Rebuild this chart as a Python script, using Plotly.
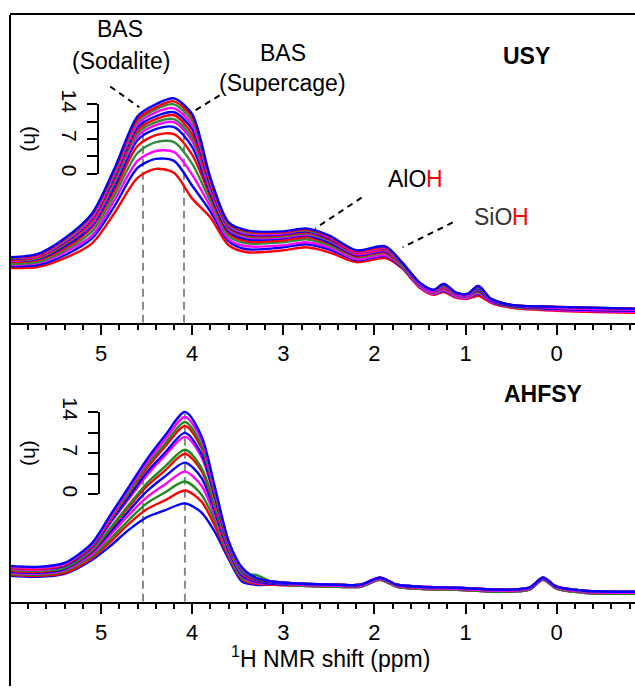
import plotly.graph_objects as go

# ---------------- data ----------------
# chemical shift grid (ppm) for the USY panel
usy_ppm = [6.0, 5.7, 5.4, 5.1, 4.85, 4.6, 4.4, 4.2, 4.0, 3.8, 3.6, 3.4, 3.0, 2.75,
           2.5, 2.2, 1.88, 1.7, 1.5, 1.35, 1.24, 1.1, 0.98, 0.86, 0.72, 0.5, 0.0, -0.9]
# signal level of each USY spectrum, measured downward from the panel top (0 h ... 14 h)
usy_0 = [268, 267, 258, 243, 212, 177, 168, 172, 198, 217, 245, 252, 250, 247, 252, 262, 258, 268, 288, 295, 292, 298, 299, 296, 303, 308, 311, 313]
usy_1 = [266, 265, 255, 238, 205, 167, 158, 160, 185, 211, 241, 249, 247, 244, 249, 260, 256, 267, 287, 294, 291, 297, 298, 294, 302, 307, 310, 312]
usy_2 = [265, 263, 252, 235, 199, 160, 150, 151, 174, 206, 239, 246, 245, 242, 247, 259, 255, 266, 287, 294, 290, 297, 298, 293, 302, 307, 310, 312]
usy_3 = [264, 262, 250, 231, 194, 152, 141, 141, 163, 201, 236, 243, 242, 239, 245, 257, 253, 266, 286, 293, 289, 296, 297, 292, 301, 307, 309, 311]
usy_4 = [262, 260, 248, 227, 189, 145, 134, 133, 154, 196, 233, 241, 240, 237, 243, 256, 252, 265, 285, 292, 288, 295, 296, 291, 301, 306, 309, 311]
usy_5 = [261, 259, 246, 225, 185, 139, 128, 126, 146, 193, 231, 239, 238, 235, 242, 255, 251, 264, 285, 292, 287, 295, 296, 290, 301, 306, 309, 311]
usy_6 = [261, 258, 244, 223, 181, 135, 124, 121, 140, 190, 229, 237, 237, 234, 240, 254, 250, 264, 285, 292, 287, 295, 296, 289, 300, 306, 308, 310]
usy_7 = [260, 258, 244, 221, 180, 132, 121, 118, 137, 188, 228, 236, 236, 233, 240, 253, 249, 264, 284, 291, 286, 294, 295, 289, 300, 306, 308, 310]
usy_8 = [260, 257, 243, 220, 177, 129, 118, 114, 133, 186, 227, 235, 235, 232, 239, 253, 249, 263, 284, 291, 286, 294, 295, 288, 300, 306, 308, 310]
usy_9 = [259, 256, 242, 218, 175, 126, 115, 111, 128, 184, 226, 234, 234, 231, 238, 252, 248, 263, 284, 291, 285, 294, 295, 288, 300, 306, 308, 310]
usy_10 = [258, 256, 241, 217, 173, 123, 111, 107, 124, 182, 225, 233, 233, 230, 237, 252, 248, 263, 284, 291, 285, 294, 295, 287, 300, 305, 308, 310]
usy_11 = [258, 255, 240, 215, 171, 120, 108, 103, 120, 180, 224, 232, 232, 230, 236, 251, 247, 263, 283, 290, 285, 293, 294, 287, 299, 305, 307, 309]
usy_12 = [257, 255, 239, 214, 169, 118, 106, 100, 116, 179, 223, 231, 232, 229, 236, 251, 247, 262, 283, 290, 284, 293, 294, 286, 299, 305, 307, 309]
usy_13 = [257, 254, 238, 213, 167, 115, 103, 97, 113, 177, 222, 230, 231, 228, 235, 250, 246, 262, 283, 290, 284, 293, 294, 286, 299, 305, 307, 309]
usy_colors = ["#FF0000", "#0000FF", "#FF00FF", "#2E8B3E"] * 3 + ["#FF0000", "#0000FF"]

# chemical shift grid (ppm) for the AHFSY panel
ahf_ppm = [6.0, 5.7, 5.4, 5.1, 4.9, 4.7, 4.5, 4.3, 4.08, 3.9, 3.75, 3.6, 3.45, 3.3,
           3.1, 2.8, 2.4, 2.15, 1.94, 1.75, 1.5, 1.1, 0.6, 0.3, 0.15, 0.0, -0.3, -0.9]
ahf_0 = [578, 579, 576, 562, 548, 532, 519, 512, 505, 514, 534, 561, 584, 587, 587, 588, 589, 589, 582, 589, 591, 592, 594, 592, 582, 591, 595, 596]
ahf_1 = [577, 578, 575, 560, 544, 526, 511, 502, 492, 503, 528, 559, 582, 586, 587, 588, 589, 589, 582, 589, 591, 592, 594, 592, 582, 591, 595, 596]
ahf_2 = [576, 577, 573, 558, 541, 522, 505, 494, 483, 496, 523, 557, 581, 585, 586, 588, 589, 589, 582, 589, 591, 592, 594, 592, 582, 591, 595, 596]
ahf_3 = [575, 576, 572, 556, 537, 517, 499, 486, 473, 487, 518, 555, 579, 585, 586, 587, 588, 588, 581, 588, 590, 591, 593, 591, 581, 590, 594, 595]
ahf_4 = [574, 575, 571, 554, 534, 513, 493, 478, 464, 479, 514, 553, 578, 584, 586, 587, 588, 588, 581, 588, 590, 591, 593, 591, 581, 590, 594, 595]
ahf_5 = [573, 574, 570, 553, 531, 509, 488, 472, 455, 472, 510, 551, 576, 583, 585, 587, 588, 588, 581, 588, 590, 591, 593, 591, 581, 590, 594, 595]
ahf_6 = [572, 573, 570, 552, 530, 507, 485, 468, 451, 469, 507, 550, 576, 577, 585, 587, 588, 588, 581, 588, 590, 591, 593, 591, 581, 590, 594, 595]
ahf_7 = [571, 572, 568, 550, 525, 501, 477, 457, 438, 458, 501, 548, 574, 582, 585, 587, 588, 588, 581, 588, 590, 591, 593, 591, 581, 590, 594, 595]
ahf_8 = [570, 571, 568, 549, 524, 499, 474, 454, 434, 455, 499, 547, 573, 582, 585, 586, 587, 587, 580, 587, 589, 590, 592, 590, 580, 589, 593, 594]
ahf_9 = [570, 571, 567, 548, 522, 495, 470, 448, 427, 449, 496, 546, 572, 581, 584, 586, 587, 587, 580, 587, 589, 590, 592, 590, 580, 589, 593, 594]
ahf_10 = [569, 570, 566, 547, 520, 494, 467, 445, 423, 446, 494, 545, 572, 581, 584, 586, 587, 587, 580, 587, 589, 590, 592, 590, 580, 589, 593, 594]
ahf_11 = [569, 570, 566, 546, 519, 491, 464, 441, 418, 441, 491, 544, 571, 580, 584, 586, 587, 587, 580, 587, 589, 590, 592, 590, 580, 589, 593, 594]
ahf_12 = [568, 569, 565, 545, 517, 489, 461, 437, 413, 437, 489, 543, 570, 580, 584, 586, 587, 587, 580, 587, 589, 590, 592, 590, 580, 589, 593, 594]
ahf_colors = ["#0000FF", "#FF0000", "#1E8A1E", "#FF00FF"] * 3 + ["#0000FF"]

usy_curves = [usy_0, usy_1, usy_2, usy_3, usy_4, usy_5, usy_6, usy_7, usy_8, usy_9,
              usy_10, usy_11, usy_12, usy_13]
ahf_curves = [ahf_0, ahf_1, ahf_2, ahf_3, ahf_4, ahf_5, ahf_6, ahf_7, ahf_8, ahf_9,
              ahf_10, ahf_11, ahf_12]

x_tickvals = [5, 4, 3, 2, 1, 0]
time_tickvals = [0, 7, 14]
time_minor_tickvals = [3.5, 10.5]
bas_sodalite_ppm = 4.54
bas_supercage_ppm_usy = 4.09
bas_supercage_ppm_ahf = 4.08

# ---------------- figure ----------------
FONT = "Liberation Sans, Arial, sans-serif"
fig = go.Figure()

for ys, c in zip(usy_curves, usy_colors):
    fig.add_trace(go.Scatter(x=usy_ppm, y=ys, mode="lines", xaxis="x", yaxis="y",
                             line=dict(color=c, width=2.4, shape="spline", smoothing=0.8),
                             showlegend=False, hoverinfo="skip"))
for ys, c in zip(ahf_curves, ahf_colors):
    fig.add_trace(go.Scatter(x=ahf_ppm, y=ys, mode="lines", xaxis="x2", yaxis="y2",
                             line=dict(color=c, width=2.4, shape="spline", smoothing=0.8),
                             showlegend=False, hoverinfo="skip"))

H = 689
T_M = 13
PH = H - T_M
def py(px):
    return (H - px) / PH
def pxp(px):
    return (px - 10) / 625

xcommon = dict(range=[6.0, -0.86], tickmode="array", tickvals=x_tickvals,
               ticks="outside", ticklen=10, tickwidth=2, tickcolor="black",
               minor=dict(tickmode="linear", tick0=0, dtick=0.2, ticks="outside",
                          ticklen=5, tickwidth=2, tickcolor="black", showgrid=False),
               showline=True, linewidth=2, linecolor="black", showgrid=False,
               zeroline=False, tickfont=dict(family=FONT, size=22, color="black"))

inset = dict(range=[0, 14], tickmode="array", tickvals=time_tickvals,
             ticks="outside", ticklen=10, tickwidth=2, tickcolor="black", tickangle=90,
             minor=dict(tickmode="array", tickvals=time_minor_tickvals, ticks="outside",
                        ticklen=10, tickwidth=2, tickcolor="black", showgrid=False),
             showline=True, linewidth=2, linecolor="black", showgrid=False, zeroline=False,
             anchor="free", side="left", tickfont=dict(family=FONT, size=21, color="black"))

fig.update_layout(
    width=635, height=689,
    margin=dict(l=10, r=0, t=T_M, b=0),
    paper_bgcolor="white", plot_bgcolor="rgba(0,0,0,0)",
    showlegend=False,
    xaxis=dict(domain=[0, 1], anchor="y", mirror=True, **xcommon),
    xaxis2=dict(domain=[0, 1], anchor="y2", matches="x", **xcommon),
    yaxis=dict(domain=[py(323), 1], range=[323, 13], visible=False),
    yaxis2=dict(domain=[py(604), py(323)], range=[604, 323], visible=False),
    yaxis3=dict(domain=[py(173), py(103)], position=pxp(98), **inset),
    yaxis4=dict(domain=[py(496), py(413)], position=pxp(99), **inset),
)

shapes = []
# frame line on the left
shapes.append(dict(type="line", xref="paper", yref="paper", x0=0, x1=0, y0=0, y1=1,
                   line=dict(color="black", width=2)))
# grey dashed BAS markers
for xv, ytop in [(bas_sodalite_ppm, 112), (bas_supercage_ppm_usy, 105)]:
    shapes.append(dict(type="line", xref="x", yref="y", x0=xv, x1=xv, y0=323, y1=ytop,
                       layer="below", line=dict(color="#8a8a8a", width=2, dash="8px,5px")))
for xv, ytop in [(bas_sodalite_ppm, 465), (bas_supercage_ppm_ahf, 415)]:
    shapes.append(dict(type="line", xref="x2", yref="y2", x0=xv, x1=xv, y0=604, y1=ytop,
                       layer="below", line=dict(color="#8a8a8a", width=2, dash="8px,5px")))
# black dashed leader lines
for (xa, ya, xb, yb) in [(4.90, 85, 4.58, 106), (3.70, 94, 4.02, 112),
                         (2.14, 197, 2.65, 228), (1.14, 222, 1.69, 247)]:
    shapes.append(dict(type="line", xref="x", yref="y", x0=xa, y0=ya, x1=xb, y1=yb,
                       line=dict(color="black", width=2, dash="6px,5px")))
fig.update_layout(shapes=shapes)

ann = []
def txt(text, x, y, xref="x", yref="y", size=23, angle=0, color="black", weight="normal"):
    ann.append(dict(text=text, x=x, y=y, xref=xref, yref=yref, showarrow=False,
                    xanchor="center", yanchor="middle", textangle=angle,
                    font=dict(family=FONT, size=size, color=color, weight=weight)))

txt("BAS", 4.79, 27)
txt("(Sodalite)", 4.78, 59)
txt("BAS", 3.00, 51)
txt("(Supercage)", 3.01, 82)
txt("USY", 0.33, 54, weight="bold")
# AlOH / SiOH with the red H as separate pieces
txt("AlO", pxp(407), 178, xref="paper")
txt("H", pxp(434), 178, xref="paper", color="#FF0000")
txt("SiO", pxp(493), 217, xref="paper", color="#333333")
txt("H", pxp(520), 217, xref="paper", color="#FF0000")
txt("AHFSY", 0.15, 395, xref="x2", yref="y2", weight="bold")
txt("(h)", pxp(32), 7, xref="paper", yref="y3", size=21, angle=90)
txt("(h)", pxp(32), 7, xref="paper", yref="y4", size=21, angle=90)
txt("<sup>1</sup>H NMR shift (ppm)", pxp(331), py(660), xref="paper", yref="paper", size=23)
fig.update_layout(annotations=ann)

fig.write_html("out.html")
